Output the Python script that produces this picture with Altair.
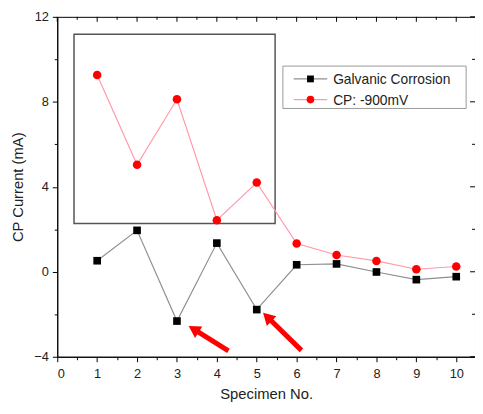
import altair as alt
import pandas as pd

# ---- data ----
specimen = list(range(1, 11))
galvanic = [0.52, 1.95, -2.32, 1.35, -1.78, 0.33, 0.37, -0.01, -0.37, -0.23]
cp900 = [9.26, 5.04, 8.12, 2.43, 4.20, 1.33, 0.79, 0.51, 0.12, 0.25]

series_names = ["Galvanic Corrosion", "CP: -900mV"]
line_colors = ["#8f8f8f", "#ff9aaa"]
marker_colors = ["#000000", "#ff0000"]
marker_shapes = ["square", "circle"]
marker_sizes = [60, 75]

# annotation arrows (data coordinates)
arrow_tail_x = [4.29, 6.12]
arrow_tail_y = [-3.72, -3.70]
arrow_head_x = [3.46, 5.30]
arrow_head_y = [-2.75, -2.19]
arrow_angle = [302, 314]

# empty inset frame (data coordinates)
inset_x = [0.42, 5.46]
inset_y = [2.27, 11.18]

x_ticks = [i * 0.5 for i in range(21)]
y_ticks = list(range(-4, 13, 2))

W, H = 424, 345
FONT = "Liberation Sans"

xs = alt.Scale(domain=[0, 10.47], nice=False, zero=False)
ys = alt.Scale(domain=[-4, 12], nice=False, zero=False)

xaxis = alt.Axis(
    values=x_ticks,
    labelExpr="datum.value % 1 === 0 ? format(datum.value, 'd') : ''",
    tickSize={"condition": {"test": "datum.value % 1 === 0", "value": 5}, "value": 3},
    title="Specimen No.",
    grid=False,
    labelOverlap=False,
    labelPadding=6,
    titlePadding=6,
)
yaxis = alt.Axis(
    values=y_ticks,
    labelExpr="datum.value % 4 === 0 ? format(datum.value, 'd') : ''",
    tickSize={"condition": {"test": "datum.value % 4 === 0", "value": 5}, "value": 3},
    title="CP Current (mA)",
    grid=False,
    labelOverlap=False,
    labelPadding=4,
    titlePadding=8,
)

df = pd.DataFrame({
    "x": specimen * 2,
    "y": galvanic + cp900,
    "s": [series_names[0]] * 10 + [series_names[1]] * 10,
})

layers = []

# inset frame
inset_df = pd.DataFrame({"x": [inset_x[0]], "x2": [inset_x[1]], "y": [inset_y[0]], "y2": [inset_y[1]]})
layers.append(
    alt.Chart(inset_df).mark_rect(fill=None, stroke="#555555", strokeWidth=1.5).encode(
        x=alt.X("x:Q", scale=xs, axis=xaxis), x2="x2:Q",
        y=alt.Y("y:Q", scale=ys, axis=yaxis), y2="y2:Q",
    )
)

for i, name in enumerate(series_names):
    sub = df[df["s"] == name]
    layers.append(
        alt.Chart(sub).mark_line(color=line_colors[i], strokeWidth=1.2).encode(
            x=alt.X("x:Q", scale=xs, axis=xaxis),
            y=alt.Y("y:Q", scale=ys, axis=yaxis),
        )
    )
for i, name in enumerate(series_names):
    sub = df[df["s"] == name]
    layers.append(
        alt.Chart(sub).mark_point(
            shape=marker_shapes[i], filled=True, color=marker_colors[i],
            size=marker_sizes[i], opacity=1,
        ).encode(
            x=alt.X("x:Q", scale=xs, axis=xaxis),
            y=alt.Y("y:Q", scale=ys, axis=yaxis),
        )
    )

# arrows
arr_df = pd.DataFrame({
    "tx": arrow_tail_x, "ty": arrow_tail_y,
    "hx": arrow_head_x, "hy": arrow_head_y, "ang": arrow_angle,
})
layers.append(
    alt.Chart(arr_df).mark_rule(color="#ff0000", strokeWidth=5).encode(
        x=alt.X("tx:Q", scale=xs, axis=xaxis), x2="hx:Q",
        y=alt.Y("ty:Q", scale=ys, axis=yaxis), y2="hy:Q",
    )
)
layers.append(
    alt.Chart(arr_df).mark_point(shape="triangle", filled=True, color="#ff0000", size=190, opacity=1).encode(
        x=alt.X("hx:Q", scale=xs, axis=xaxis),
        y=alt.Y("hy:Q", scale=ys, axis=yaxis),
        angle=alt.Angle("ang:Q", scale=None),
    )
)

# mirrored inward ticks on the top and right frame
tick_df = pd.DataFrame({"t": x_ticks, "major": [v % 1 == 0 for v in x_ticks]})
layers.append(
    alt.Chart(tick_df[tick_df["major"]]).mark_rule(color="black").encode(
        x=alt.X("t:Q", scale=xs, axis=xaxis), y=alt.value(0), y2=alt.value(5),
    )
)
layers.append(
    alt.Chart(tick_df[~tick_df["major"]]).mark_rule(color="black").encode(
        x=alt.X("t:Q", scale=xs, axis=xaxis), y=alt.value(0), y2=alt.value(3),
    )
)
ytick_df = pd.DataFrame({"t": y_ticks, "major": [v % 4 == 0 for v in y_ticks]})
layers.append(
    alt.Chart(ytick_df[ytick_df["major"]]).mark_rule(color="black").encode(
        y=alt.Y("t:Q", scale=ys, axis=yaxis), x=alt.value(W), x2=alt.value(W - 5),
    )
)
layers.append(
    alt.Chart(ytick_df[~ytick_df["major"]]).mark_rule(color="black").encode(
        y=alt.Y("t:Q", scale=ys, axis=yaxis), x=alt.value(W), x2=alt.value(W - 3),
    )
)

# legend box
leg_df = pd.DataFrame({"s": series_names})
layers.append(
    alt.Chart(leg_df.head(1)).mark_rect(fill="white", stroke="#999999", strokeWidth=1).encode(
        x=alt.value(229), x2=alt.value(415), y=alt.value(50), y2=alt.value(93),
    )
)
for i, name in enumerate(series_names):
    row = leg_df.iloc[[i]]
    ypix = 63 + 21 * i
    layers.append(
        alt.Chart(row).mark_rule(color=line_colors[i], strokeWidth=1.2).encode(
            x=alt.value(240), x2=alt.value(274), y=alt.value(ypix),
        )
    )
    layers.append(
        alt.Chart(row).mark_point(
            shape=marker_shapes[i], filled=True, color=marker_colors[i],
            size=marker_sizes[i] * 0.8, opacity=1,
        ).encode(x=alt.value(257), y=alt.value(ypix))
    )
    layers.append(
        alt.Chart(row).mark_text(
            align="left", baseline="middle", font=FONT, fontSize=14, color="#222222",
        ).encode(x=alt.value(280), y=alt.value(ypix + 1), text="s:N")
    )

chart = alt.layer(*layers).properties(
    width=W, height=H,
    autosize=alt.AutoSizeParams(type="none"),
    padding={"left": 50, "top": 6, "right": 0, "bottom": 47},
).configure_view(
    stroke="black", strokeWidth=1,
).configure_axis(
    domainColor="black", tickColor="black",
    labelFont=FONT, labelFontSize=13, labelColor="#222222",
    titleFont=FONT, titleFontSize=15, titleFontWeight="normal", titleColor="#222222",
)

chart.save("out.html", embed_options={"renderer": "svg", "actions": False})
